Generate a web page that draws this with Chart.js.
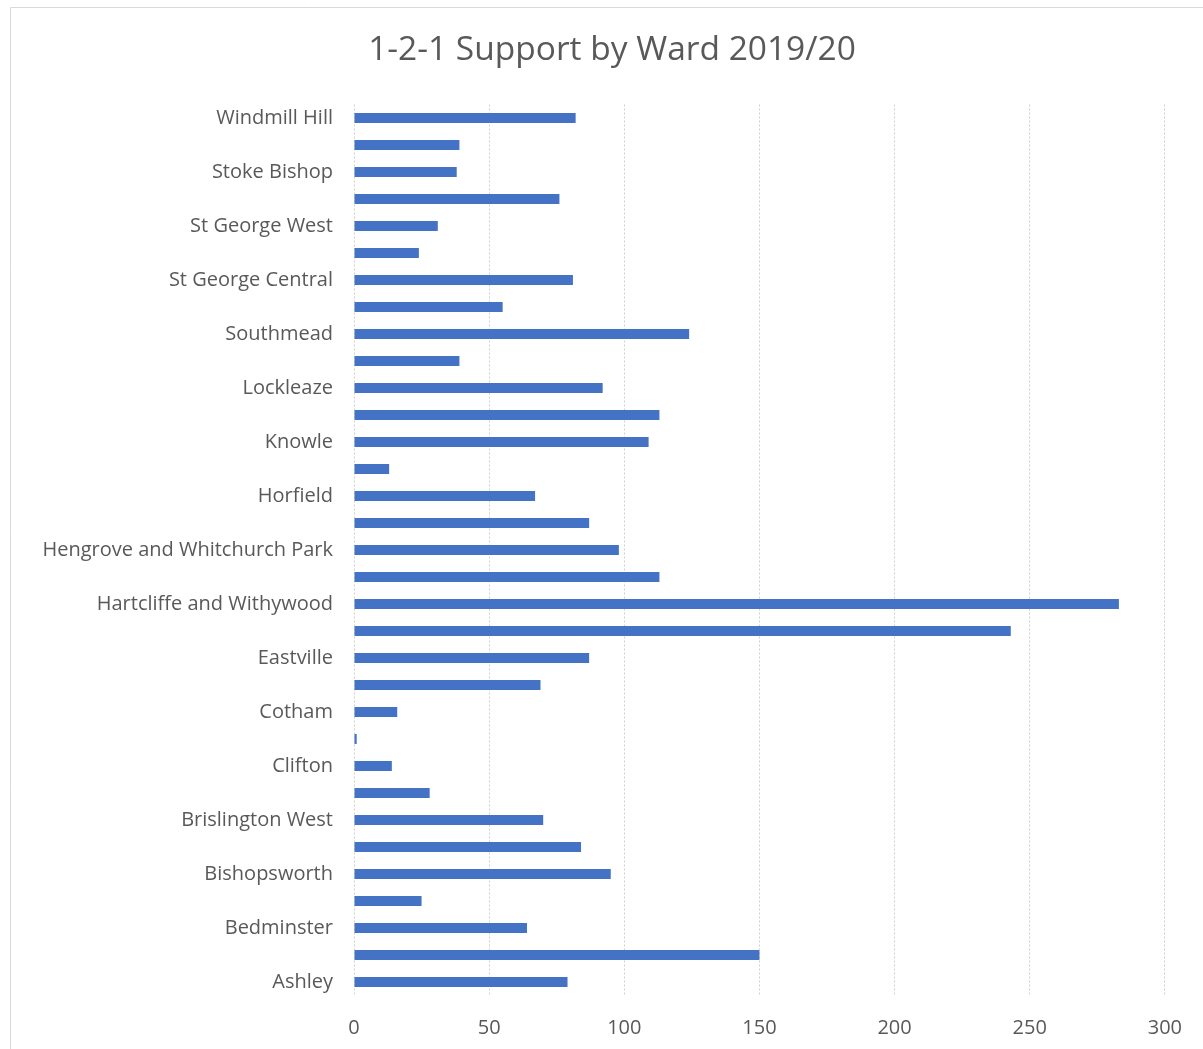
<!DOCTYPE html>
<html>
<head>
<meta charset="utf-8">
<script src="https://cdn.jsdelivr.net/npm/chart.js@4/dist/chart.umd.min.js"></script>
<style>
html,body{margin:0;padding:0;background:#fff;}
#wrap{width:1203px;height:1049px;position:relative;}
</style>
</head>
<body>
<div id="wrap"><canvas id="c"></canvas></div>
<script>
const chartTitle = "1-2-1 Support by Ward 2019/20";
const wards = [
  "Ashley", "Avonmouth and Lawrence Weston", "Bedminster", "Bishopston and Ashley Down",
  "Bishopsworth", "Brislington East", "Brislington West", "Central", "Clifton",
  "Clifton Down", "Cotham", "Easton", "Eastville", "Filwood", "Hartcliffe and Withywood",
  "Henbury and Brentry", "Hengrove and Whitchurch Park", "Hillfields", "Horfield",
  "Hotwells and Harbourside", "Knowle", "Lawrence Hill", "Lockleaze", "Redland",
  "Southmead", "Southville", "St George Central", "St George Troopers Hill",
  "St George West", "Stockwood", "Stoke Bishop", "Westbury-on-Trym and Henleaze",
  "Windmill Hill"
];
const supportCounts = [
  79, 150, 64, 25,
  95, 84, 70, 28, 14,
  1, 16, 69, 87, 243, 283,
  113, 98, 87, 67,
  13, 109, 113, 92, 39,
  124, 55, 81, 24,
  31, 76, 38, 39,
  82
];
const xTicks = [0, 50, 100, 150, 200, 250, 300];

const textColor = "#595959";
const fontFamily = "'Open Sans', Lato, 'Liberation Sans', sans-serif";

const frame = {
  id: 'frame',
  beforeDraw(chart) {
    const ctx = chart.ctx;
    ctx.save();
    ctx.fillStyle = '#fff';
    ctx.fillRect(0, 0, chart.width, chart.height);
    ctx.strokeStyle = '#d9d9d9';
    ctx.lineWidth = 1;
    ctx.beginPath();
    ctx.moveTo(10.5, chart.height);
    ctx.lineTo(10.5, 7.5);
    ctx.lineTo(chart.width, 7.5);
    ctx.stroke();
    ctx.restore();
  },
  afterLayout(chart) {
    // shift title centre to match the framed chart object
    if (chart.titleBlock) { chart.titleBlock.left = 59; }
  }
};

new Chart(document.getElementById('c'), {
  type: 'bar',
  data: {
    labels: wards,
    datasets: [{
      data: supportCounts,
      backgroundColor: '#4472C4',
      borderWidth: 0,
      categoryPercentage: 1.0,
      barPercentage: 0.37
    }]
  },
  options: {
    indexAxis: 'y',
    responsive: true,
    maintainAspectRatio: false,
    animation: false,
    layout: { padding: { top: 0, right: 38, bottom: 0, left: 14 } },
    plugins: {
      legend: { display: false },
      tooltip: { enabled: false },
      title: {
        display: true,
        text: chartTitle,
        color: textColor,
        font: { family: fontFamily, size: 33.5, weight: 'normal' },
        padding: { top: 30, bottom: 34.3 }
      }
    },
    scales: {
      x: {
        min: 0,
        max: 300,
        afterBuildTicks(scale) { scale.ticks = xTicks.map(v => ({ value: v })); },
        afterFit(scale) { scale.height = 53.5; },
        grid: { color: '#d0d0d0', lineWidth: 1, drawTicks: false },
        border: { display: false, dash: [2, 2] },
        ticks: { color: textColor, font: { family: fontFamily, size: 20 }, padding: 21 }
      },
      y: {
        reverse: true,
        afterFit(scale) { scale.width = 340; },
        grid: { display: false },
        border: { display: false },
        ticks: {
          autoSkip: false,
          color: textColor,
          font: { family: fontFamily, size: 20 },
          padding: 13,
          callback(value, index) { return index % 2 === 0 ? this.getLabelForValue(value) : ''; }
        }
      }
    }
  },
  plugins: [frame]
});
</script>
</body>
</html>
